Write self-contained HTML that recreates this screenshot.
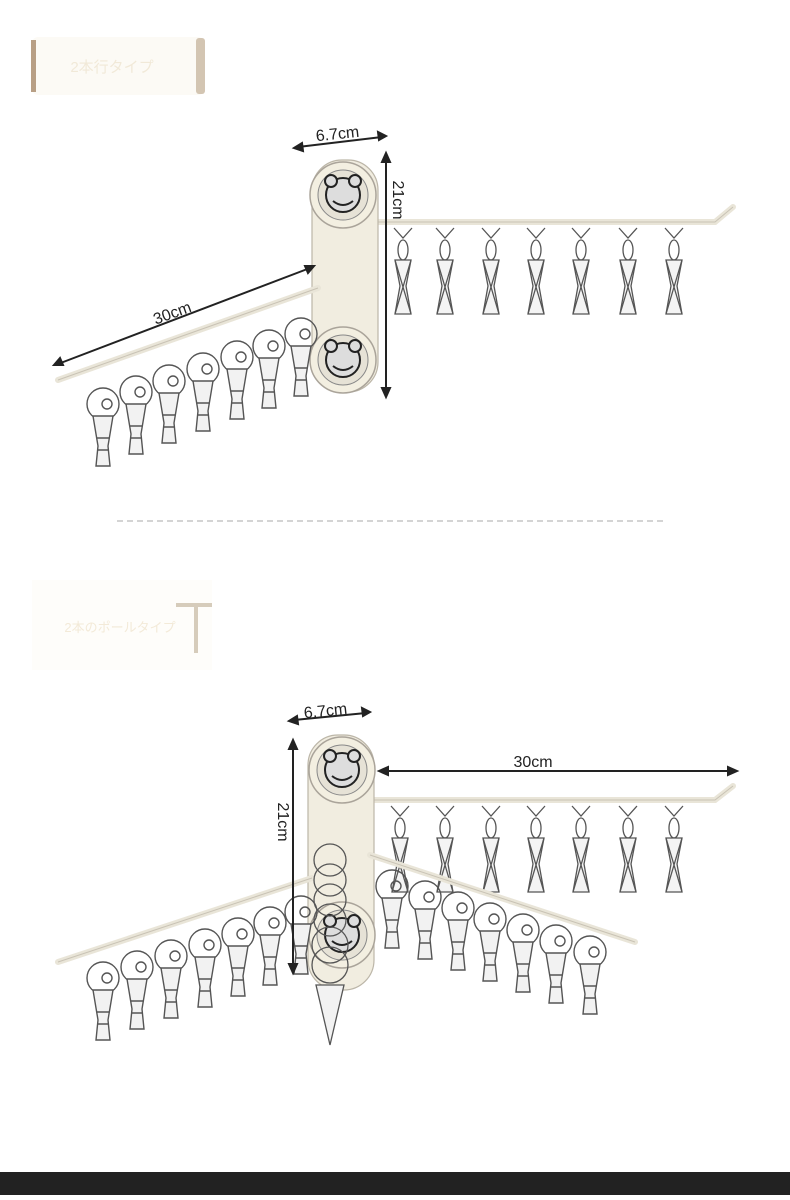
<!DOCTYPE html>
<html><head><meta charset="utf-8"><style>
body{margin:0;background:#fff;width:790px;height:1195px;overflow:hidden;font-family:"Liberation Sans","Noto Sans CJK JP",sans-serif}
</style></head><body>
<svg width="790" height="1195" viewBox="0 0 790 1195" xmlns="http://www.w3.org/2000/svg" font-family="Liberation Sans, Noto Sans CJK JP, sans-serif">
<defs>
<symbol id="sc" overflow="visible">
<g fill="none" stroke="#555" stroke-width="1.3">
<path d="M-9,0 L0,10 L9,0"/>
<ellipse cx="0" cy="22" rx="5" ry="10"/>
<path d="M-8,32 L8,32 L3,58 L8,86 L-8,86 L-3,58 Z" fill="#f4f4f4"/>
<path d="M-8,32 L8,86 M8,32 L-8,86"/>
</g>
</symbol>
<symbol id="rc" overflow="visible">
<g fill="none" stroke="#555" stroke-width="1.4">
<circle cx="0" cy="28" r="16"/>
<path d="M-10,40 L10,40 L5,70 L7,90 L-7,90 L-5,70 Z" fill="#f2f2f2"/>
<path d="M-6,62 L6,62 M-6,74 L6,74"/>
<circle cx="4" cy="28" r="5"/>
</g>
</symbol>
<symbol id="cup" overflow="visible">
<circle r="33" fill="#f3efe1" stroke="#aaa49a" stroke-width="1.5"/>
<circle r="25" fill="#e6e2d6" stroke="#888" stroke-width="1"/>
<circle r="17" fill="#ddd" stroke="#222" stroke-width="2"/>
<circle cx="-12" cy="-14" r="6" fill="#ddd" stroke="#222" stroke-width="2"/>
<circle cx="12" cy="-14" r="6" fill="#ddd" stroke="#222" stroke-width="2"/>
<path d="M-10,6 Q0,14 10,6" stroke="#222" stroke-width="2" fill="none"/>
</symbol>
</defs>

<rect x="32" y="37" width="172" height="58" rx="6" fill="#fcfaf5"/>
<rect x="31" y="40" width="5" height="52" fill="#b89f85"/>
<rect x="196" y="38" width="9" height="56" rx="3" fill="#d3c5b2"/>
<text x="112" y="72" font-size="15" fill="#f1e9d8" text-anchor="middle">2本行タイプ</text>

<path d="M368,222 L715,222 L733,207" stroke="#e9e5d8" stroke-width="6" fill="none" stroke-linecap="round"/>
<path d="M368,222 L715,222 L733,207" stroke="#c9c3b5" stroke-width="1" fill="none"/>
<g>
<use href="#sc" x="403" y="228"/><use href="#sc" x="445" y="228"/><use href="#sc" x="491" y="228"/>
<use href="#sc" x="536" y="228"/><use href="#sc" x="581" y="228"/><use href="#sc" x="628" y="228"/><use href="#sc" x="674" y="228"/>
</g>
<rect x="312" y="160" width="66" height="232" rx="30" fill="#f1ede0" stroke="#bcb6a8" stroke-width="1.2"/>
<use href="#cup" x="343" y="195"/>
<use href="#cup" x="343" y="360"/>
<path d="M318,288 L58,380" stroke="#e9e5d8" stroke-width="6" stroke-linecap="round"/>
<path d="M318,288 L58,380" stroke="#c9c3b5" stroke-width="1"/>
<g>
<use href="#rc" x="103" y="376"/><use href="#rc" x="136" y="364"/><use href="#rc" x="169" y="353"/>
<use href="#rc" x="203" y="341"/><use href="#rc" x="237" y="329"/><use href="#rc" x="269" y="318"/><use href="#rc" x="301" y="306"/>
</g>
<g stroke="#222" stroke-width="2" fill="#222">
<line x1="298" y1="147" x2="382" y2="137"/>
<path d="M294,148 l8,-5 l1,8 z M386,136 l-8,-4 l1,8 z"/>
<line x1="386" y1="158" x2="386" y2="392"/>
<path d="M386,153 l-4,9 h8 z M386,397 l-4,-9 h8 z"/>
<line x1="310" y1="268" x2="58" y2="364"/>
<path d="M314,266 l-9,0 l3,7 z M54,365 l9,0 l-3,-7 z"/>
</g>
<text x="338" y="139" font-size="16" fill="#222" text-anchor="middle" transform="rotate(-6 338 139)">6.7cm</text>
<text x="393" y="200" font-size="16" fill="#222" text-anchor="middle" transform="rotate(90 393 200)">21cm</text>
<text x="174" y="318" font-size="16" fill="#222" text-anchor="middle" transform="rotate(-20 174 318)">30cm</text>

<line x1="117" y1="521" x2="665" y2="521" stroke="#aaa" stroke-width="1" stroke-dasharray="6,4"/>

<rect x="32" y="580" width="180" height="90" fill="#fefdfa"/>
<rect x="176" y="603" width="36" height="4" fill="#d6ccbb"/>
<rect x="194" y="603" width="4" height="50" fill="#d6ccbb"/>
<text x="120" y="632" font-size="13" fill="#f3ead8" text-anchor="middle">2本のポールタイプ</text>

<path d="M368,800 L715,800 L733,786" stroke="#e9e5d8" stroke-width="6" fill="none" stroke-linecap="round"/>
<path d="M368,800 L715,800 L733,786" stroke="#c9c3b5" stroke-width="1" fill="none"/>
<g>
<use href="#sc" x="400" y="806"/><use href="#sc" x="445" y="806"/><use href="#sc" x="491" y="806"/>
<use href="#sc" x="536" y="806"/><use href="#sc" x="581" y="806"/><use href="#sc" x="628" y="806"/><use href="#sc" x="674" y="806"/>
</g>
<rect x="308" y="735" width="66" height="255" rx="30" fill="#f1ede0" stroke="#bcb6a8" stroke-width="1.2"/>
<use href="#cup" x="342" y="770"/>
<use href="#cup" x="342" y="935"/>
<path d="M370,855 L635,942" stroke="#e9e5d8" stroke-width="6" stroke-linecap="round"/>
<path d="M370,855 L635,942" stroke="#c9c3b5" stroke-width="1"/>
<g>
<use href="#rc" x="392" y="858"/><use href="#rc" x="425" y="869"/><use href="#rc" x="458" y="880"/>
<use href="#rc" x="490" y="891"/><use href="#rc" x="523" y="902"/><use href="#rc" x="556" y="913"/><use href="#rc" x="590" y="924"/>
</g>
<path d="M312,878 L58,962" stroke="#e9e5d8" stroke-width="6" stroke-linecap="round"/>
<path d="M312,878 L58,962" stroke="#c9c3b5" stroke-width="1"/>
<g>
<use href="#rc" x="103" y="950"/><use href="#rc" x="137" y="939"/><use href="#rc" x="171" y="928"/>
<use href="#rc" x="205" y="917"/><use href="#rc" x="238" y="906"/><use href="#rc" x="270" y="895"/><use href="#rc" x="301" y="884"/>
</g>
<g fill="none" stroke="#555" stroke-width="1.3">
<ellipse cx="330" cy="860" rx="16" ry="16"/><ellipse cx="330" cy="880" rx="16" ry="16"/><ellipse cx="330" cy="900" rx="16" ry="16"/>
<ellipse cx="330" cy="920" rx="16" ry="16"/><ellipse cx="330" cy="945" rx="18" ry="18"/><ellipse cx="330" cy="965" rx="18" ry="18"/>
<path d="M316,985 L344,985 L330,1045 Z" fill="#f2f2f2"/>
</g>
<g stroke="#222" stroke-width="2" fill="#222">
<line x1="294" y1="720" x2="366" y2="713"/>
<path d="M289,721 l8,-5 l1,8 z M370,712 l-8,-4 l1,8 z"/>
<line x1="293" y1="745" x2="293" y2="968"/>
<path d="M293,740 l-4,9 h8 z M293,973 l-4,-9 h8 z"/>
<line x1="384" y1="771" x2="732" y2="771"/>
<path d="M379,771 l9,-4 v8 z M737,771 l-9,-4 v8 z"/>
</g>
<text x="326" y="716" font-size="16" fill="#222" text-anchor="middle" transform="rotate(-6 326 716)">6.7cm</text>
<text x="278" y="822" font-size="16" fill="#222" text-anchor="middle" transform="rotate(90 278 822)">21cm</text>
<text x="533" y="767" font-size="16" fill="#222" text-anchor="middle">30cm</text>

<rect x="0" y="1172" width="790" height="23" fill="#222"/>
</svg>
</body></html>
